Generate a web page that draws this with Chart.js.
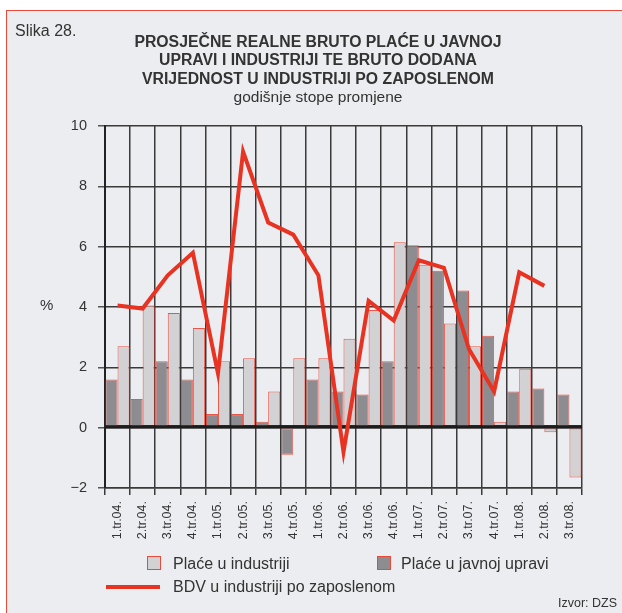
<!DOCTYPE html>
<html>
<head>
<meta charset="utf-8">
<script src="https://cdn.jsdelivr.net/npm/chart.js@4.4.1/dist/chart.umd.min.js"></script>
<style>
  body { margin: 0; width: 622px; height: 613px; background: #fff; overflow: hidden; position: relative; font-family: 'Liberation Sans', Arial, sans-serif; color: #333; }
  .frame { position: absolute; left: 6px; top: 10px; width: 640px; height: 640px; background: #ecedf0; border-left: 1.5px solid #ea4a3c; border-top: 1.5px solid #ea4a3c; }
  canvas { position: absolute; left: 0; top: 0; }
  .txt { position: absolute; white-space: nowrap; }
  .slika { left: 15px; top: 22px; font-size: 16px; }
  .title { left: 0; width: 636px; top: 33px; text-align: center; font-size: 15.8px; font-weight: bold; line-height: 18.3px; }
  .sub { font-weight: normal; font-size: 15.5px; }
  .pct { left: 40px; top: 296px; font-size: 15px; }
  .box { position: absolute; width: 12px; height: 12px; border: 1px solid #e84a3c; }
  .leg { font-size: 16px; }
  .src { left: 558px; top: 596px; font-size: 12.5px; }
</style>
</head>
<body>
<div class="frame"></div>
<canvas id="chart" width="622" height="613"></canvas>
<div class="txt slika">Slika 28.</div>
<div class="txt title">PROSJEČNE REALNE BRUTO PLAĆE U JAVNOJ<br>UPRAVI I INDUSTRIJI TE BRUTO DODANA<br>VRIJEDNOST U INDUSTRIJI PO ZAPOSLENOM<br><span class="sub">godišnje stope promjene</span></div>
<div class="txt pct">%</div>
<div class="box" style="left:147px; top:556px; background:#d2d2d4;"></div>
<div class="txt leg" style="left:173px; top:555px;">Plaće u industriji</div>
<div class="box" style="left:377px; top:556px; background:#8d8c91;"></div>
<div class="txt leg" style="left:401px; top:555px;">Plaće u javnoj upravi</div>
<div style="position:absolute; left:106px; top:585px; width:54px; height:4px; background:#e83323;"></div>
<div class="txt leg" style="left:173px; top:578px;">BDV u industriji po zaposlenom</div>
<div class="txt src">Izvor: DZS</div>
<script>
// quarters
const categories = ['1.tr.04.', '2.tr.04.', '3.tr.04.', '4.tr.04.', '1.tr.05.', '2.tr.05.', '3.tr.05.', '4.tr.05.',
    '1.tr.06.', '2.tr.06.', '3.tr.06.', '4.tr.06.', '1.tr.07.', '2.tr.07.', '3.tr.07.', '4.tr.07.',
    '1.tr.08.', '2.tr.08.', '3.tr.08.'];

// annual rates of change, %
const placeJavnaUprava = [1.6, 0.95, 2.2, 1.6, 0.45, 0.45, 0.2, -0.9, 1.6, 1.2, 1.1, 2.2, 6.05, 5.2, 4.55, 3.05, 1.2, 1.3, 1.1];
const placeIndustrija = [2.7, 4.05, 3.8, 3.3, 2.2, 2.3, 1.2, 2.3, 2.3, 2.95, 3.9, 6.15, 5.4, 3.45, 2.7, 0.2, 1.95, -0.15, -1.65];
const bdvPoZaposlenom = [4.05, 3.95, 5.05, 5.8, 1.8, 9.15, 6.8, 6.4, 5.05, -0.8, 4.2, 3.55, 5.55, 5.3, 2.6, 1.2, 5.15, 4.7, null];

const yTicks = [-2, 0, 2, 4, 6, 8, 10];

// thick zero line drawn over the bars, under the red line
const zeroLine = {
    id: 'zeroLine',
    afterDatasetDraw(chart, args) {
        if (chart.data.datasets[args.index].type !== 'bar') return;
        const { ctx, chartArea, scales } = chart;
        const y = scales.y.getPixelForValue(0);
        ctx.save();
        ctx.strokeStyle = '#1c1c1c';
        ctx.lineWidth = 3;
        ctx.beginPath();
        ctx.moveTo(chartArea.left, y - 1);
        ctx.lineTo(chartArea.right, y - 1);
        ctx.stroke();
        ctx.restore();
    }
};

new Chart(document.getElementById('chart'), {
    data: {
        labels: categories,
        datasets: [
            {
                type: 'line',
                label: 'BDV u industriji po zaposlenom',
                data: bdvPoZaposlenom,
                borderColor: '#e83323',
                borderWidth: 4,
                pointRadius: 0,
                tension: 0,
                spanGaps: false,
                order: 0
            },
            {
                type: 'bar',
                label: 'Plaće u javnoj upravi',
                data: placeJavnaUprava,
                backgroundColor: '#8d8c91',
                borderColor: 'rgba(232, 60, 45, 0.85)',
                borderWidth: 1,
                borderSkipped: false,
                barPercentage: 1,
                categoryPercentage: 0.96,
                order: 1
            },
            {
                type: 'bar',
                label: 'Plaće u industriji',
                data: placeIndustrija,
                backgroundColor: '#d2d2d4',
                borderColor: 'rgba(232, 60, 45, 0.85)',
                borderWidth: 1,
                borderSkipped: false,
                barPercentage: 1,
                categoryPercentage: 0.96,
                order: 2
            }
        ]
    },
    options: {
        responsive: false,
        devicePixelRatio: 1,
        animation: false,
        layout: { padding: { left: 0, top: 126, right: 40, bottom: 65 } },
        plugins: {
            legend: { display: false },
            tooltip: { enabled: false }
        },
        scales: {
            x: {
                offset: true,
                grid: { offset: true, color: '#3a3a3a', lineWidth: 1.5, tickLength: 7, tickColor: '#3a3a3a' },
                border: { color: '#3a3a3a', width: 1.5 },
                ticks: {
                    color: '#333',
                    font: { family: "'Liberation Sans', Arial, sans-serif", size: 12.5 },
                    minRotation: 90,
                    maxRotation: 90,
                    autoSkip: false,
                    padding: 6
                },
                afterFit(scale) { scale.height = 60; }
            },
            y: {
                min: -2,
                max: 10,
                afterBuildTicks(scale) { scale.ticks = yTicks.map(v => ({ value: v })); },
                grid: { color: '#3a3a3a', lineWidth: 1.5, tickLength: 7, tickColor: '#555' },
                border: { color: '#222', width: 2 },
                ticks: {
                    color: '#333',
                    font: { family: "'Liberation Sans', Arial, sans-serif", size: 14.5 },
                    padding: 11,
                    callback: v => (v < 0 ? '\u2212' + Math.abs(v) : String(v))
                },
                afterFit(scale) { scale.width = 105; }
            }
        }
    },
    plugins: [zeroLine]
});
</script>
</body>
</html>
